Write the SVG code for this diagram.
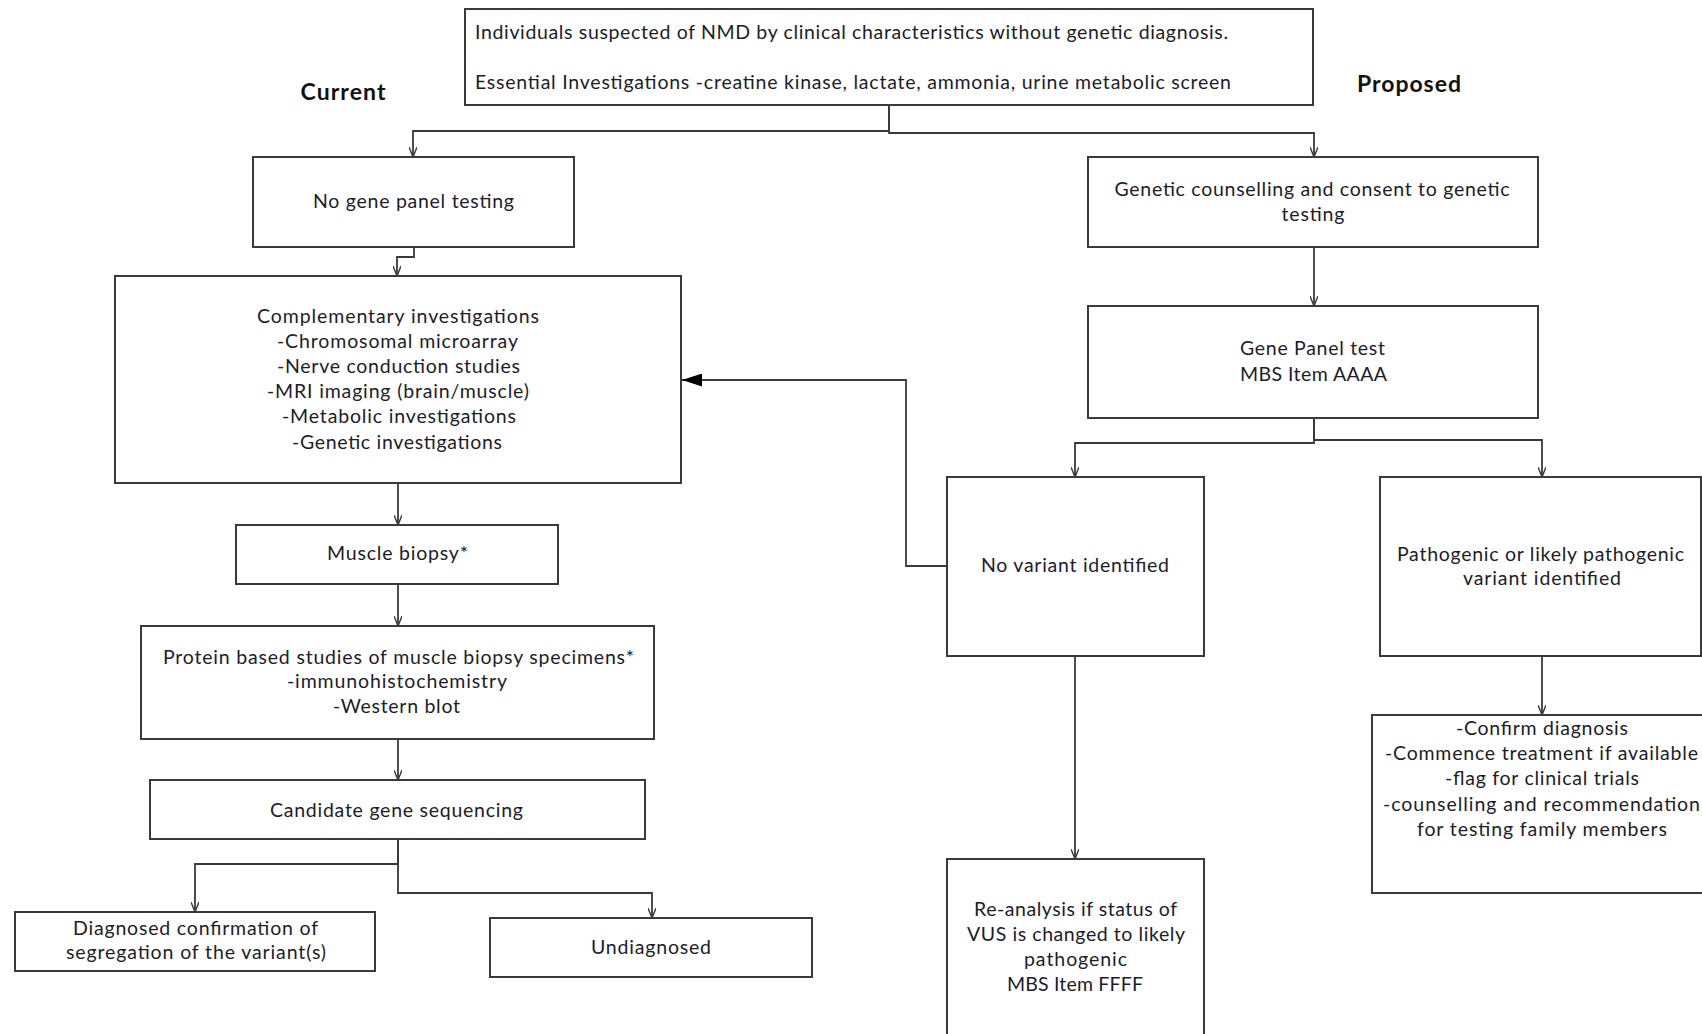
<svg xmlns="http://www.w3.org/2000/svg" width="1702" height="1034" viewBox="0 0 1702 1034">
<style>
.box{fill:#ffffff;stroke:#3a3a3a;stroke-width:2}
.t{font-family:Lato,"Open Sans","Liberation Sans",sans-serif;font-size:19.5px;fill:#1c1c2c;text-anchor:middle}
.ts{text-anchor:start}
.h{font-family:Lato,"Open Sans","Liberation Sans",sans-serif;font-size:23px;font-weight:bold;fill:#111111;text-anchor:middle}
.c{fill:none;stroke:#3a3a3a;stroke-width:1.8}
</style>
<defs>
<marker id="open" viewBox="0 0 10 8" refX="10" refY="4" markerWidth="10" markerHeight="8" markerUnits="userSpaceOnUse" orient="auto">
<path d="M0,0 L10,4 L0,8" fill="none" stroke="#3a3a3a" stroke-width="1.4"/>
</marker>
<marker id="solid" viewBox="0 0 20 13" refX="20" refY="6.5" markerWidth="20" markerHeight="13" markerUnits="userSpaceOnUse" orient="auto">
<path d="M0,0 L20,6.5 L0,13 z" fill="#000000"/>
</marker>
</defs>
<rect width="1702" height="1034" fill="#ffffff"/>
<text class="h" x="343" y="100" textLength="85">Current</text>
<text class="h" x="1409" y="92" textLength="104">Proposed</text>
<g id="connectors">
<path class="c" d="M889,105 V131 H413 V157" marker-end="url(#open)"/>
<path class="c" d="M889,105 V133 H1314 V157" marker-end="url(#open)"/>
<path class="c" d="M414,247 V257 H397 V276" marker-end="url(#open)"/>
<path class="c" d="M398,483 V525" marker-end="url(#open)"/>
<path class="c" d="M398,584 V626" marker-end="url(#open)"/>
<path class="c" d="M398,739 V780" marker-end="url(#open)"/>
<path class="c" d="M398,839 V864 H195 V912" marker-end="url(#open)"/>
<path class="c" d="M398,839 V893 H652 V918" marker-end="url(#open)"/>
<path class="c" d="M1314,247 V306" marker-end="url(#open)"/>
<path class="c" d="M1314,418 V443 H1075 V477" marker-end="url(#open)"/>
<path class="c" d="M1314,418 V440 H1542 V477" marker-end="url(#open)"/>
<path class="c" d="M947,566 H906 V380 H682" marker-end="url(#solid)"/>
<path class="c" d="M1075,656 V859" marker-end="url(#open)"/>
<path class="c" d="M1542,656 V715" marker-end="url(#open)"/>
</g>
<g id="top">
<rect class="box" x="465" y="9" width="848" height="96"/>
<text class="t ts" x="475" y="39" textLength="753">Individuals suspected of NMD by clinical characteristics without genetic diagnosis.</text>
<text class="t ts" x="475" y="89" textLength="756">Essential Investigations -creatine kinase, lactate, ammonia, urine metabolic screen</text>
</g>
<g id="nogene">
<rect class="box" x="253" y="157" width="321" height="90"/>
<text class="t" x="413.5" y="208" textLength="201">No gene panel testing</text>
</g>
<g id="genetic">
<rect class="box" x="1088" y="157" width="450" height="90"/>
<text class="t" x="1312" y="196" textLength="395">Genetic counselling and consent to genetic</text>
<text class="t" x="1313" y="221" textLength="63">testing</text>
</g>
<g id="complementary">
<rect class="box" x="115" y="276" width="566" height="207"/>
<text class="t" x="398" y="323" textLength="282">Complementary investigations</text>
<text class="t" x="397.5" y="348" textLength="241">-Chromosomal microarray</text>
<text class="t" x="398.5" y="373" textLength="243">-Nerve conduction studies</text>
<text class="t" x="398" y="398" textLength="262">-MRI imaging (brain/muscle)</text>
<text class="t" x="399" y="423" textLength="234">-Metabolic investigations</text>
<text class="t" x="397" y="449" textLength="210">-Genetic investigations</text>
</g>
<g id="muscle">
<rect class="box" x="236" y="525" width="322" height="59"/>
<text class="t" x="397.5" y="560" textLength="141">Muscle biopsy*</text>
</g>
<g id="protein">
<rect class="box" x="141" y="626" width="513" height="113"/>
<text class="t" x="398.5" y="664" textLength="471">Protein based studies of muscle biopsy specimens*</text>
<text class="t" x="397" y="688" textLength="220">-immunohistochemistry</text>
<text class="t" x="396.5" y="713" textLength="127">-Western blot</text>
</g>
<g id="candidate">
<rect class="box" x="150" y="780" width="495" height="59"/>
<text class="t" x="396.5" y="817" textLength="253">Candidate gene sequencing</text>
</g>
<g id="diagnosed">
<rect class="box" x="15" y="912" width="360" height="59"/>
<text class="t" x="195.5" y="935" textLength="245">Diagnosed confirmation of</text>
<text class="t" x="196" y="959" textLength="260">segregation of the variant(s)</text>
</g>
<g id="undiagnosed">
<rect class="box" x="490" y="918" width="322" height="59"/>
<text class="t" x="651" y="954" textLength="120">Undiagnosed</text>
</g>
<g id="genepanel">
<rect class="box" x="1088" y="306" width="450" height="112"/>
<text class="t" x="1312.5" y="355" textLength="145">Gene Panel test</text>
<text class="t" x="1313.5" y="381" textLength="147">MBS Item AAAA</text>
</g>
<g id="novariant">
<rect class="box" x="947" y="477" width="257" height="179"/>
<text class="t" x="1075" y="572" textLength="188">No variant identified</text>
</g>
<g id="pathogenic">
<rect class="box" x="1380" y="477" width="321" height="179"/>
<text class="t" x="1540.5" y="561" textLength="287">Pathogenic or likely pathogenic</text>
<text class="t" x="1542" y="585" textLength="158">variant identified</text>
</g>
<g id="reanalysis">
<rect class="box" x="947" y="859" width="257" height="200"/>
<text class="t" x="1075.5" y="916" textLength="203">Re-analysis if status of</text>
<text class="t" x="1076" y="941" textLength="218">VUS is changed to likely</text>
<text class="t" x="1075.5" y="966" textLength="103">pathogenic</text>
<text class="t" x="1075" y="991" textLength="136">MBS Item FFFF</text>
</g>
<g id="outcome">
<rect class="box" x="1372" y="715" width="345" height="178"/>
<text class="t" x="1542" y="735" textLength="172">-Confirm diagnosis</text>
<text class="t" x="1541.5" y="760" textLength="313">-Commence treatment if available</text>
<text class="t" x="1542" y="785" textLength="194">-flag for clinical trials</text>
<text class="t" x="1541.5" y="811" textLength="317">-counselling and recommendation</text>
<text class="t" x="1542" y="836" textLength="250">for testing family members</text>
</g>
</svg>
